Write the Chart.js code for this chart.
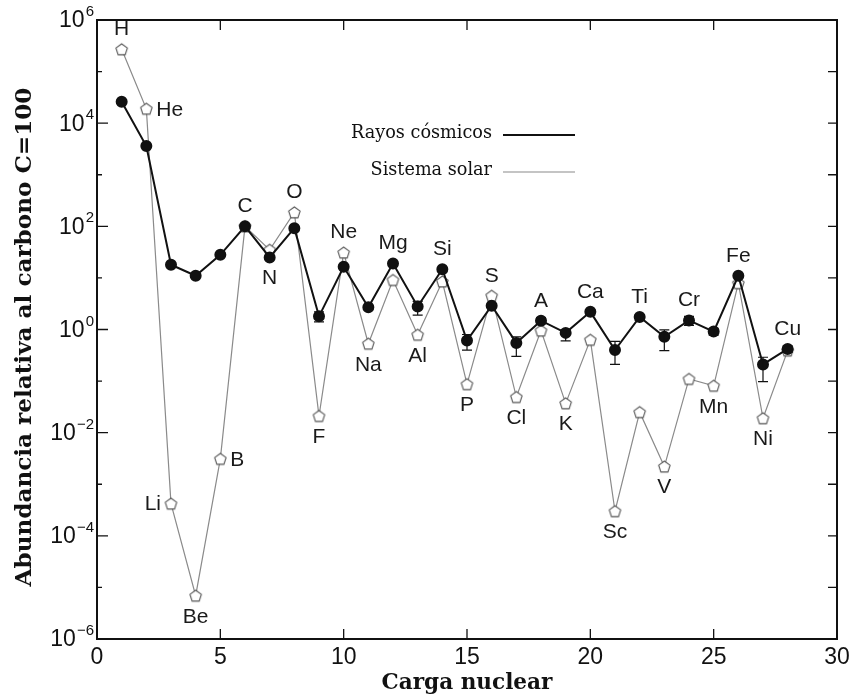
<!DOCTYPE html>
<html>
<head>
<meta charset="utf-8">
<script src="https://cdn.jsdelivr.net/npm/chart.js@4.4.0/dist/chart.umd.min.js"></script>
<style>
  html, body { margin: 0; padding: 0; background: #fff; }
  #grafico { display: block; }
</style>
</head>
<body>
<canvas id="grafico" width="856" height="698"></canvas>
<script>
// carga nuclear Z
var carga = [1, 2, 3, 4, 5, 6, 7, 8, 9, 10, 11, 12, 13, 14, 15, 16, 17, 18, 19, 20, 21, 22, 23, 24, 25, 26, 27, 28];
var elementos = ['H', 'He', 'Li', 'Be', 'B', 'C', 'N', 'O', 'F', 'Ne', 'Na', 'Mg', 'Al', 'Si', 'P', 'S', 'Cl', 'A', 'K', 'Ca', 'Sc', 'Ti', 'V', 'Cr', 'Mn', 'Fe', 'Ni', 'Cu'];
// abundancia relativa (C = 100)
var rayosCosmicos = [2.6e4, 3.6e3, 18, 11, 28, 100, 25, 92, 1.8, 16.5, 2.7, 19, 2.8, 14.7, 0.61, 2.9, 0.55, 1.48, 0.86, 2.2, 0.40, 1.75, 0.72, 1.5, 0.91, 11, 0.21, 0.42];
var sistemaSolar = [2.7e5, 1.9e4, 4.2e-4, 6.9e-6, 3.1e-3, 100, 35, 186, 0.021, 31, 0.53, 9.1, 0.79, 8.5, 0.087, 4.5, 0.049, 0.95, 0.037, 0.63, 3.0e-4, 0.025, 2.2e-3, 0.11, 0.081, 7.9, 0.019, 0.39];
// barras de error de rayos cosmicos (null = no visible)
var errorInf = [null, null, null, null, null, null, null, null, 1.4, null, null, null, 1.9, null, 0.40, null, 0.30, 1.3, 0.6, 1.9, 0.21, 1.5, 0.39, 1.2, 0.78, null, 0.098, 0.36];
var errorSup = [null, null, null, null, null, null, null, null, 2.2, null, null, null, 3.5, null, 0.8, null, 0.72, 1.7, 1.0, 2.4, 0.59, 1.9, 0.98, 1.8, 1.05, null, 0.29, 0.48];
var xTicks = [0, 5, 10, 15, 20, 25, 30];
var yExponentes = [-6, -5, -4, -3, -2, -1, 0, 1, 2, 3, 4, 5, 6];

// donde va la etiqueta de cada elemento: serie (c = cosmicos, s = solar) y lado
var lugarEtiqueta = {
  H: 's-up', He: 's-right', Li: 's-left', Be: 's-down', B: 's-right', C: 'c-up', N: 'c-down', O: 's-up',
  F: 's-down', Ne: 's-up', Na: 's-down', Mg: 'c-up', Al: 's-down', Si: 'c-up', P: 's-down', S: 's-up',
  Cl: 's-down', A: 'c-up', K: 's-down', Ca: 'c-up', Sc: 's-down', Ti: 'c-up', V: 's-down', Cr: 'c-up',
  Mn: 's-down', Fe: 'c-up', Ni: 's-down', Cu: 'c-up'
};

// pentagono para los puntos del sistema solar
function hacerPentagono() {
  var c = document.createElement('canvas');
  c.width = 15; c.height = 15;
  var g = c.getContext('2d');
  g.beginPath();
  for (var i = 0; i < 5; i++) {
    var a = -Math.PI / 2 + i * 2 * Math.PI / 5;
    var px = 7.5 + 6 * Math.cos(a), py = 8 + 6 * Math.sin(a);
    if (i === 0) g.moveTo(px, py); else g.lineTo(px, py);
  }
  g.closePath();
  g.fillStyle = '#fff';
  g.fill();
  g.lineWidth = 1.1;
  g.strokeStyle = '#555';
  g.stroke();
  return c;
}

var SANS = '"Liberation Sans", Arial, sans-serif';
var SERIF = '"DejaVu Serif", serif';

function ajustarFuente(ctx, texto, peso, ancho, base) {
  ctx.font = peso + ' ' + base + 'px ' + SERIF;
  var w = ctx.measureText(texto).width;
  return peso + ' ' + (base * ancho / w).toFixed(2) + 'px ' + SERIF;
}

function potencia(ctx, exp, xDer, yMed) {
  var sup = exp < 0 ? '\u2212' + (-exp) : '' + exp;
  ctx.textBaseline = 'middle';
  ctx.textAlign = 'left';
  ctx.font = '15px ' + SANS;
  var wSup = ctx.measureText(sup).width;
  ctx.font = '23px ' + SANS;
  var wBase = ctx.measureText('10').width;
  var x0 = xDer - wSup - wBase - 1;
  ctx.fillText('10', x0, yMed + 1);
  ctx.font = '15px ' + SANS;
  ctx.fillText(sup, x0 + wBase + 1, yMed - 8);
}

var dibujoExtra = {
  id: 'dibujoExtra',
  afterDatasetsDraw: function(chart) {
    var ctx = chart.ctx, a = chart.chartArea;
    var sx = chart.scales.x, sy = chart.scales.y;
    ctx.save();

    // barras de error
    ctx.strokeStyle = '#111';
    ctx.lineWidth = 1.2;
    for (var i = 0; i < carga.length; i++) {
      if (errorInf[i] === null) continue;
      var x = sx.getPixelForValue(carga[i]);
      var y1 = sy.getPixelForValue(errorInf[i]);
      var y2 = sy.getPixelForValue(errorSup[i]);
      ctx.beginPath();
      ctx.moveTo(x, y1); ctx.lineTo(x, y2);
      ctx.moveTo(x - 5, y1); ctx.lineTo(x + 5, y1);
      ctx.moveTo(x - 5, y2); ctx.lineTo(x + 5, y2);
      ctx.stroke();
    }

    // marco
    ctx.strokeStyle = '#111';
    ctx.lineWidth = 2;
    ctx.strokeRect(a.left, a.top, a.right - a.left, a.bottom - a.top);

    // marcas de eje
    ctx.lineWidth = 1.3;
    ctx.beginPath();
    xTicks.forEach(function(t) {
      var x = sx.getPixelForValue(t);
      ctx.moveTo(x, a.bottom); ctx.lineTo(x, a.bottom - 10);
      ctx.moveTo(x, a.top); ctx.lineTo(x, a.top + 10);
    });
    yExponentes.forEach(function(e) {
      var y = sy.getPixelForValue(Math.pow(10, e));
      var largo = (e % 2 === 0) ? 11 : 5;
      ctx.moveTo(a.left, y); ctx.lineTo(a.left + largo, y);
      ctx.moveTo(a.right, y); ctx.lineTo(a.right - 9, y);
    });
    ctx.stroke();

    // etiquetas de eje
    ctx.fillStyle = '#111';
    ctx.font = '23px ' + SANS;
    ctx.textAlign = 'center';
    ctx.textBaseline = 'middle';
    xTicks.forEach(function(t) {
      ctx.fillText(String(t), sx.getPixelForValue(t), a.bottom + 19);
    });
    yExponentes.forEach(function(e) {
      if (e % 2 !== 0) return;
      potencia(ctx, e, a.left - 3, sy.getPixelForValue(Math.pow(10, e)));
    });

    // titulos
    var tx = 'Carga nuclear';
    ctx.font = ajustarFuente(ctx, tx, 'bold', 171, 20);
    ctx.textAlign = 'center';
    ctx.textBaseline = 'middle';
    ctx.fillText(tx, (a.left + a.right) / 2, 683);
    var ty = 'Abundancia relativa al carbono C=100';
    ctx.font = ajustarFuente(ctx, ty, 'bold', 499, 20);
    ctx.save();
    ctx.translate(25, 337);
    ctx.rotate(-Math.PI / 2);
    ctx.fillText(ty, 0, 0);
    ctx.restore();

    // leyenda
    var ds = chart.data.datasets;
    ctx.textAlign = 'right';
    ctx.font = ajustarFuente(ctx, ds[0].label, 'normal', 141, 15);
    ctx.fillText(ds[0].label, 492, 133);
    ctx.fillText(ds[1].label, 492, 170);
    ctx.beginPath();
    ctx.strokeStyle = ds[0].borderColor; ctx.lineWidth = ds[0].borderWidth;
    ctx.moveTo(503, 135); ctx.lineTo(575, 135);
    ctx.stroke();
    ctx.beginPath();
    ctx.strokeStyle = ds[1].borderColor; ctx.lineWidth = ds[1].borderWidth;
    ctx.moveTo(503, 172); ctx.lineTo(575, 172);
    ctx.stroke();

    // nombres de elementos
    ctx.fillStyle = '#1a1a1a';
    ctx.font = '21px ' + SANS;
    ctx.textBaseline = 'middle';
    elementos.forEach(function(el, i) {
      var l = lugarEtiqueta[el].split('-');
      var v = l[0] === 'c' ? rayosCosmicos[i] : sistemaSolar[i];
      var x = sx.getPixelForValue(carga[i]);
      var y = sy.getPixelForValue(v);
      if (l[1] === 'up') { ctx.textAlign = 'center'; ctx.fillText(el, x, y - 20); }
      else if (l[1] === 'down') { ctx.textAlign = 'center'; ctx.fillText(el, x, y + 21); }
      else if (l[1] === 'right') { ctx.textAlign = 'left'; ctx.fillText(el, x + 10, y + 1); }
      else { ctx.textAlign = 'right'; ctx.fillText(el, x - 10, y + 1); }
    });
    ctx.restore();
  }
};

new Chart(document.getElementById('grafico'), {
  type: 'line',
  data: {
    datasets: [{
      label: 'Rayos cósmicos',
      data: carga.map(function(z, i) { return { x: z, y: rayosCosmicos[i] }; }),
      borderColor: '#111',
      borderWidth: 2,
      pointRadius: 5,
      pointBackgroundColor: '#111',
      pointBorderColor: '#111',
      tension: 0,
      order: 1
    }, {
      label: 'Sistema solar',
      data: carga.map(function(z, i) { return { x: z, y: sistemaSolar[i] }; }),
      borderColor: '#8a8a8a',
      borderWidth: 1.2,
      pointStyle: hacerPentagono(),
      pointRadius: 6,
      tension: 0,
      order: 2
    }]
  },
  options: {
    responsive: false,
    animation: false,
    devicePixelRatio: 1,
    layout: { padding: { left: 97, right: 19, top: 20, bottom: 59 } },
    scales: {
      x: { type: 'linear', min: 0, max: 30, display: false },
      y: { type: 'logarithmic', min: 1e-6, max: 1e6, display: false }
    },
    plugins: { legend: { display: false }, tooltip: { enabled: false } }
  },
  plugins: [dibujoExtra]
});
</script>
</body>
</html>
